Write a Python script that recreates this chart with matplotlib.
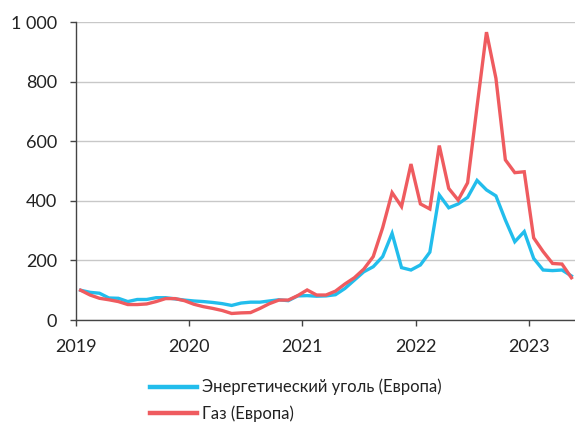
import matplotlib
matplotlib.use("Agg")
import matplotlib.pyplot as plt
import numpy as np

# Monthly index, Jan 2019 = 100 (Jan 2019 .. May 2023)
years = ["2019", "2020", "2021", "2022", "2023"]
coal = [100, 93, 90, 74, 73, 62, 69, 69, 75, 75, 71, 67,
        64, 62, 59, 55, 49, 57, 60, 60, 64, 68, 65, 81,
        82, 80, 81, 85, 106, 134, 162, 179, 213, 291, 176, 168,
        185, 228, 420, 377, 390, 412, 469, 437, 417, 336, 263, 297,
        207, 168, 166, 168, 148]
gas = [100, 84, 73, 68, 62, 52, 52, 54, 62, 72, 72, 65,
       53, 45, 39, 32, 22, 24, 25, 39, 55, 67, 67, 82,
       101, 84, 84, 97, 121, 142, 171, 213, 310, 428, 381, 524,
       390, 373, 586, 442, 403, 461, 717, 967, 812, 538, 495, 498,
       276, 230, 190, 188, 142]
labels = ["Энергетический уголь (Европа)", "Газ (Европа)"]

plt.rcParams['font.family'] = ['Lato', 'DejaVu Sans']

fig = plt.figure(figsize=(5.75, 4.25), dpi=100)
ax = fig.add_axes([0.132, 0.247, 0.87, 0.7005])

x = np.arange(len(coal))
ax.plot(x, coal, color='#22BDEC', linewidth=2.4, label=labels[0],
        solid_joinstyle='miter')
ax.plot(x, gas, color='#EF5B5F', linewidth=2.4, label=labels[1],
        solid_joinstyle='miter')

ax.set_ylim(0, 1000)
ax.set_xlim(-0.5, len(coal) - 0.5)
ax.set_yticks(np.arange(0, 1001, 200))
ax.set_yticklabels([f"{v:,}".replace(",", " ") for v in range(0, 1001, 200)])
ax.set_xticks(np.arange(len(years)) * 12 - 0.5)
ax.set_xticklabels(years)

ax.grid(axis='y', color='#c8c8c8', linewidth=1.0)
ax.set_axisbelow(True)
for s in ['top', 'right']:
    ax.spines[s].set_visible(False)
for s in ['left', 'bottom']:
    ax.spines[s].set_color('#444444')
    ax.spines[s].set_linewidth(1.0)
ax.tick_params(axis='both', colors='#444444', labelcolor='#222222',
               labelsize=13, length=4.5, width=1.0, pad=9)

leg = ax.legend(loc='upper left', bbox_to_anchor=(0.135, -0.175), frameon=False,
                fontsize=12, handlelength=2.8, handletextpad=0.3,
                labelspacing=0.6, borderaxespad=0)
for h in leg.get_lines():
    h.set_linewidth(3.2)
for t in leg.get_texts():
    t.set_color('#222222')

fig.savefig('out.png', dpi=100)
